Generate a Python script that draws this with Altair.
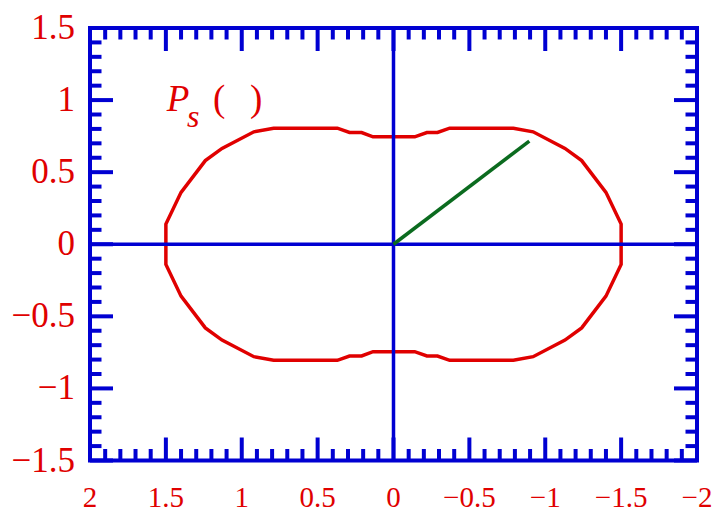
import altair as alt
import pandas as pd

RED = "#e00000"
BLUE = "#0000d2"
GREEN = "#0b6b1f"
SERIF = "Liberation Serif"

# closed boundary, traced from the left crossing of the horizontal axis
curve_x = [1.50, 1.50, 1.40, 1.24, 1.13, 0.92, 0.79, 0.37, 0.29, 0.21, 0.135, 0.0,
           -0.14, -0.22, -0.29, -0.37, -0.79, -0.92, -1.13, -1.24, -1.40, -1.50,
           -1.50, -1.40, -1.24, -1.13, -0.92, -0.79, -0.37, -0.29, -0.22, -0.14, 0.0,
           0.135, 0.21, 0.29, 0.37, 0.79, 0.92, 1.13, 1.24, 1.40, 1.50, 1.50]
curve_y = [0.0, 0.14, 0.36, 0.58, 0.665, 0.78, 0.805, 0.805, 0.775, 0.775, 0.745, 0.745,
           0.745, 0.775, 0.775, 0.805, 0.805, 0.78, 0.665, 0.58, 0.36, 0.14,
           -0.14, -0.36, -0.58, -0.665, -0.78, -0.805, -0.805, -0.775, -0.775, -0.745, -0.745,
           -0.745, -0.775, -0.775, -0.805, -0.805, -0.78, -0.665, -0.58, -0.36, -0.14, 0.0]

# radius vector from the origin
ray_x = [0.0, -0.895]
ray_y = [0.0, 0.716]

# tick positions
x_major = [-2.0, -1.5, -1.0, -0.5, 0.0, 0.5, 1.0, 1.5, 2.0]
y_major = [-1.5, -1.0, -0.5, 0.0, 0.5, 1.0, 1.5]
x_minor = [round(k / 10, 1) for k in range(-19, 20) if k % 5 != 0]
y_minor = [round(k / 10, 1) for k in range(-14, 15) if k % 5 != 0]

W, H = 607, 432.5
MAJOR, MINOR = 23, 11.5
TICK_W = 4

curve_df = pd.DataFrame({"x": curve_x, "y": curve_y, "i": range(len(curve_x))})
ray_df = pd.DataFrame({"x": ray_x, "y": ray_y, "i": range(len(ray_x))})

xscale = alt.Scale(domain=[-2, 2], reverse=True, nice=False, zero=False)
yscale = alt.Scale(domain=[-1.5, 1.5], nice=False, zero=False)

# tick labels use a true minus sign
label_calc = "replace(toString(datum.v), '-', '\u2212')"


def xf(field):
    return alt.X(field, type="quantitative", scale=xscale, axis=None)


def yf(field):
    return alt.Y(field, type="quantitative", scale=yscale, axis=None)


def xd(value):
    return alt.XDatum(value, scale=xscale, axis=None)


def yd(value):
    return alt.YDatum(value, scale=yscale, axis=None)


curve = alt.Chart(curve_df).mark_line(color=RED, strokeWidth=3.5).encode(
    x=xf("x"), y=yf("y"), order="i:Q",
)


def x_ticks(values, length):
    # inward ticks on the bottom and top edges of the frame
    df = pd.DataFrame({"v": values})
    base = alt.Chart(df).mark_rule(color=BLUE, strokeWidth=TICK_W)
    return [
        base.encode(x=xf("v"), y=alt.value(H), y2=alt.value(H - length)),
        base.encode(x=xf("v"), y=alt.value(0), y2=alt.value(length)),
    ]


def y_ticks(values, length):
    # inward ticks on the left and right edges of the frame
    df = pd.DataFrame({"v": values})
    base = alt.Chart(df).mark_rule(color=BLUE, strokeWidth=TICK_W)
    return [
        base.encode(y=yf("v"), x=alt.value(0), x2=alt.value(length)),
        base.encode(y=yf("v"), x=alt.value(W), x2=alt.value(W - length)),
    ]


x_labels = alt.Chart(pd.DataFrame({"v": x_major})).transform_calculate(
    t=label_calc
).mark_text(
    font=SERIF, fontSize=29, color=RED, align="center", baseline="alphabetic"
).encode(x=xf("v"), y=alt.value(H + 46.5), text="t:N")

y_labels = alt.Chart(pd.DataFrame({"v": y_major})).transform_calculate(
    t=label_calc
).mark_text(
    font=SERIF, fontSize=35, color=RED, align="right", baseline="middle"
).encode(y=yf("v"), x=alt.value(-15), text="t:N")

hline = alt.Chart().mark_rule(color=BLUE, strokeWidth=3.5).encode(y=yd(0))
vline = alt.Chart().mark_rule(color=BLUE, strokeWidth=3.5).encode(x=xd(0))

ray = alt.Chart(ray_df).mark_line(color=GREEN, strokeWidth=3.5).encode(
    x=xf("x"), y=yf("y"), order="i:Q",
)


def label(text, x, y, size, style="normal"):
    return alt.Chart().mark_text(
        text=text, font=SERIF, fontSize=size, fontStyle=style, color=RED,
        align="left", baseline="alphabetic",
    ).encode(x=xd(x), y=yd(y))


chart = alt.layer(
    curve,
    *x_ticks(x_major, MAJOR),
    *x_ticks(x_minor, MINOR),
    *y_ticks(y_major, MAJOR),
    *y_ticks(y_minor, MINOR),
    hline,
    vline,
    ray,
    x_labels,
    y_labels,
    label("P", 1.495, 0.926, 37, "italic"),
    label("s", 1.36, 0.813, 32, "italic"),
    label("(", 1.189, 0.922, 37),
    label(")", 0.946, 0.922, 37),
).properties(
    width=W,
    height=H,
    autosize=alt.AutoSizeParams(type="none"),
    padding={"left": 90, "top": 28, "right": 30, "bottom": 61},
).configure_view(
    stroke=BLUE, strokeWidth=4, clip=False
)

chart.save("out.html", embed_options={"renderer": "svg", "actions": False})
